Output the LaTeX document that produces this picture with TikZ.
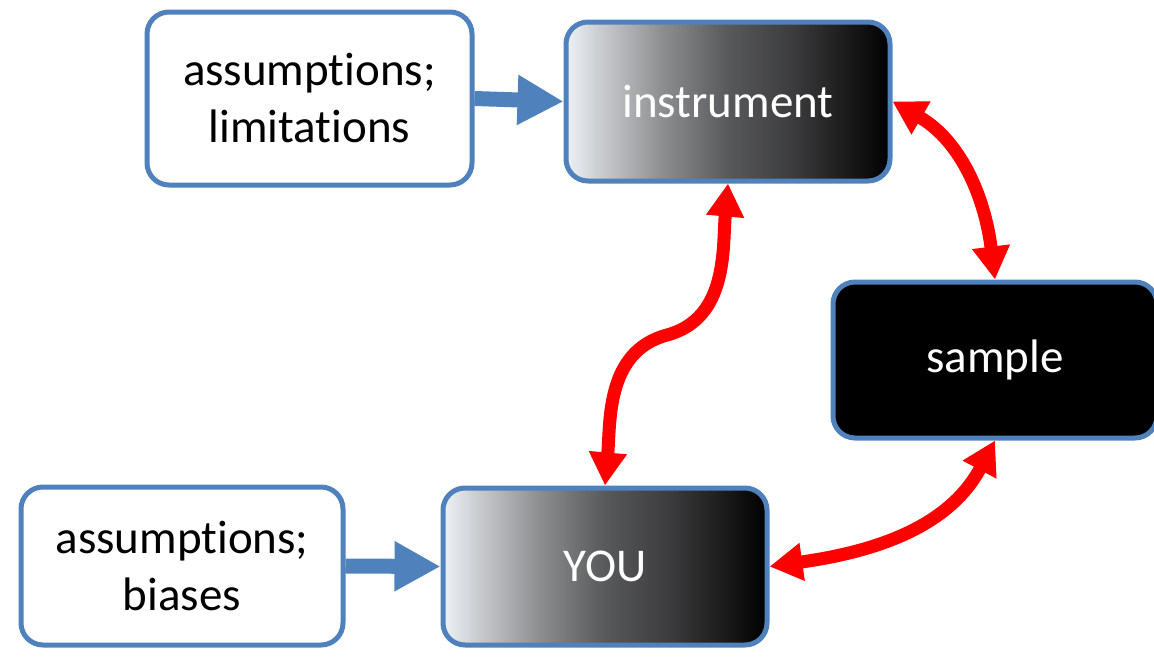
\documentclass[tikz,border=0pt]{standalone}
\usepackage{fontspec}
\setmainfont{Carlito}[Ligatures={NoCommon}]
\usetikzlibrary{arrows.meta}
\definecolor{bordblue}{RGB}{79,129,189}
\definecolor{gA}{RGB}{237,241,246}
\definecolor{gB}{RGB}{197,199,202}
\definecolor{gC}{RGB}{140,141,143}
\definecolor{gD}{RGB}{88,89,91}
\definecolor{gE}{RGB}{60,60,62}
\definecolor{gF}{RGB}{30,30,30}
\definecolor{gG}{RGB}{0,0,0}
\pgfdeclarehorizontalshading{grd}{100bp}{color(0bp)=(gA); color(25bp)=(gA); color(31bp)=(gB); color(40bp)=(gC); color(50bp)=(gD); color(60bp)=(gE); color(67.5bp)=(gF); color(75bp)=(gG); color(100bp)=(gG)}
\begin{document}
\begin{tikzpicture}[x=1pt,y=1pt,
  box/.style={rectangle, rounded corners=22pt, draw=bordblue, line width=5pt, inner sep=0pt, font=\fontsize{47}{57}\selectfont, align=center},
  whitebox/.style={box, fill=white, text=black},
  gradbox/.style={box, shade, shading=grd, text=white},
  blackbox/.style={box, fill=black, text=white},
  bluearrow/.style={draw=bordblue, line width=15pt, -{Triangle[length=46pt,width=47pt]}},
  redarrow/.style={draw=red, line width=13pt, {Triangle[length=33pt,width=36pt]}-{Triangle[length=33pt,width=36pt]}}
]
\useasboundingbox (0,0) rectangle (1154,-656);
\node[whitebox, minimum width=325pt, minimum height=173pt] (lim) at (309.5,-98.5) {assumptions;\\limitations};
\node[gradbox, minimum width=324pt, minimum height=159pt] (inst) at (728,-101.5) {instrument};
\node[blackbox, minimum width=324pt, minimum height=156pt] (samp) at (995,-360) {sample};
\node[whitebox, minimum width=322pt, minimum height=158pt] (bias) at (182,-566) {assumptions;\\biases};
\node[gradbox, minimum width=324pt, minimum height=157pt] (you) at (605,-566.5) {YOU};
\coordinate (mid) at (667,-335);
\draw[bluearrow] (lim.east) -- (inst.west);
\draw[bluearrow] (bias.east) -- (you.west);
\draw[redarrow] (inst.east) to[out=-30, in=97] (samp.north);
\draw[redarrow] (you.east) to[out=8, in=242] (samp.south);
\draw[redarrow] (inst.south) to[out=-95, in=15] (mid) to[out=195, in=85] (you.north);
\end{tikzpicture}
\end{document}
